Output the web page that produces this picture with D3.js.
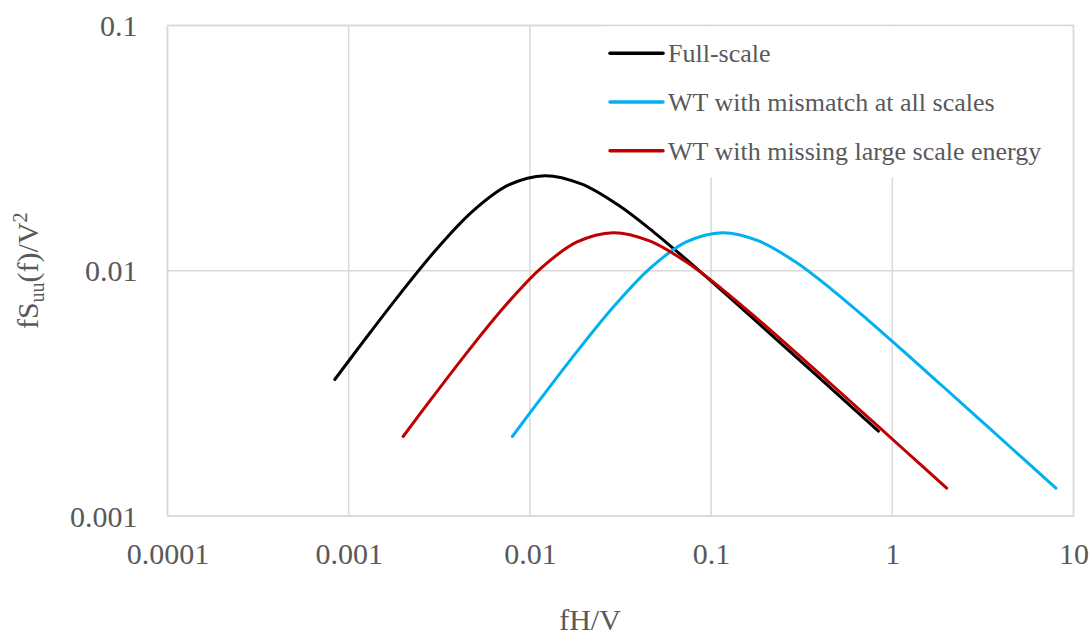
<!DOCTYPE html>
<html>
<head>
<meta charset="utf-8">
<script src="https://cdn.jsdelivr.net/npm/d3@7/dist/d3.min.js"></script>
<style>
  html, body { margin: 0; padding: 0; background: #fff; }
  svg text { font-family: "Liberation Serif", "Tinos", "Times New Roman", "DejaVu Serif", "Noto Serif", serif; fill: #595959; }
</style>
</head>
<body>
<svg id="chart" width="1092" height="637"></svg>
<script>
// Normalised velocity spectra fSuu(f)/V^2 against reduced frequency fH/V
const seriesNames = ["Full-scale", "WT with mismatch at all scales", "WT with missing large scale energy"];
const seriesColors = ["#000000", "#00b0f0", "#c00000"];

const fullScaleX = [0.000838, 0.001211, 0.00192, 0.003043, 0.004823, 0.007644, 0.01211, 0.0192, 0.03043, 0.04823, 0.07644, 0.1211, 0.192, 0.3043, 0.4823, 0.838];
const fullScaleY = [0.003602, 0.005174, 0.008052, 0.012207, 0.017466, 0.022381, 0.024421, 0.022594, 0.01861, 0.014375, 0.010794, 0.008008, 0.005909, 0.004354, 0.003204, 0.002218];

const mismatchX = [0.008, 0.011555, 0.018319, 0.029032, 0.046017, 0.072931, 0.11555, 0.18319, 0.29032, 0.46017, 0.72931, 1.1555, 1.8319, 2.9032, 4.6017, 7.996];
const mismatchY = [0.002109, 0.00303, 0.004715, 0.007148, 0.010228, 0.013106, 0.014301, 0.013231, 0.010898, 0.008418, 0.006321, 0.00469, 0.00346, 0.00255, 0.001876, 0.001299];

const missingX = [0.001997, 0.002885, 0.004574, 0.007249, 0.01149, 0.01821, 0.028852, 0.04574, 0.07249, 0.1149, 0.1821, 0.28852, 0.4574, 0.7249, 1.149, 1.996];
const missingY = [0.002109, 0.00303, 0.004715, 0.007148, 0.010228, 0.013106, 0.014301, 0.013231, 0.010898, 0.008418, 0.006321, 0.00469, 0.00346, 0.00255, 0.001876, 0.001299];

const xTicks = [0.0001, 0.001, 0.01, 0.1, 1, 10];
const xTickLabels = ["0.0001", "0.001", "0.01", "0.1", "1", "10"];
const yTicks = [0.001, 0.01, 0.1];
const yTickLabels = ["0.001", "0.01", "0.1"];

const plot = { left: 167.5, right: 1073.5, top: 25.5, bottom: 516 };

const svg = d3.select("#chart");

const x = d3.scaleLog().domain([0.0001, 10]).range([plot.left, plot.right]);
const y = d3.scaleLog().domain([0.001, 0.1]).range([plot.bottom, plot.top]);

// Gridlines
const grid = svg.append("g").attr("stroke", "#d9d9d9").attr("stroke-width", 1.5);
grid.selectAll("line.v").data(xTicks).join("line")
  .attr("class", "v")
  .attr("x1", d => x(d)).attr("x2", d => x(d))
  .attr("y1", plot.top).attr("y2", plot.bottom);
grid.selectAll("line.h").data(yTicks).join("line")
  .attr("class", "h")
  .attr("x1", plot.left).attr("x2", plot.right)
  .attr("y1", d => y(d)).attr("y2", d => y(d));

// Plot-area border
svg.append("rect")
  .attr("x", plot.left).attr("y", plot.top)
  .attr("width", plot.right - plot.left).attr("height", plot.bottom - plot.top)
  .attr("fill", "none").attr("stroke", "#d9d9d9").attr("stroke-width", 1.5);

// Axes: labels only
const xAxis = d3.axisBottom(x).tickValues(xTicks).tickSize(0)
  .tickFormat((d, i) => xTickLabels[i]);
const gx = svg.append("g").attr("transform", `translate(0,${plot.bottom})`).call(xAxis);
gx.select(".domain").remove();
gx.selectAll("text").attr("font-size", 30).attr("dy", null).attr("y", 48);

const yAxis = d3.axisLeft(y).tickValues(yTicks).tickSize(0)
  .tickFormat((d, i) => yTickLabels[i]);
const gy = svg.append("g").attr("transform", `translate(${plot.left},0)`).call(yAxis);
gy.select(".domain").remove();
gy.selectAll("text").attr("font-size", 30).attr("x", -30).attr("dy", "0.34em");

// Legend (white backing hides the gridlines behind it)
const legend = svg.append("g");
legend.append("rect")
  .attr("x", 604).attr("y", plot.top + 1).attr("width", 466).attr("height", 151)
  .attr("fill", "#fff");
const legendRows = seriesNames.map((name, i) => ({ name, color: seriesColors[i], i }));
legend.selectAll("line").data(legendRows).join("line")
  .attr("x1", 610).attr("x2", 663)
  .attr("y1", d => 53.3 + d.i * 48.7).attr("y2", d => 53.3 + d.i * 48.7)
  .attr("stroke", d => d.color).attr("stroke-width", 3.5).attr("stroke-linecap", "round");
legend.selectAll("text").data(legendRows).join("text")
  .attr("x", 668).attr("y", d => 62.3 + d.i * 48.7)
  .attr("font-size", 26)
  .text(d => d.name);

// Spectra
const line = d3.line()
  .x(d => x(d[0])).y(d => y(d[1]))
  .curve(d3.curveCatmullRom.alpha(0.5));

const series = [
  { xs: fullScaleX, ys: fullScaleY, color: seriesColors[0] },
  { xs: mismatchX, ys: mismatchY, color: seriesColors[1] },
  { xs: missingX, ys: missingY, color: seriesColors[2] }
];
svg.append("g").selectAll("path").data(series).join("path")
  .attr("d", s => line(s.xs.map((v, i) => [v, s.ys[i]])))
  .attr("fill", "none")
  .attr("stroke", s => s.color)
  .attr("stroke-width", 3)
  .attr("stroke-linecap", "round")
  .attr("stroke-linejoin", "round");

// Axis titles
svg.append("text")
  .attr("x", 590).attr("y", 630)
  .attr("text-anchor", "middle").attr("font-size", 30)
  .text("fH/V");

const yTitle = svg.append("text")
  .attr("transform", `translate(38,${(plot.top + plot.bottom) / 2}) rotate(-90)`)
  .attr("text-anchor", "middle").attr("font-size", 30);
yTitle.append("tspan").text("fS");
yTitle.append("tspan").attr("font-size", 20).attr("dy", 6).text("uu");
yTitle.append("tspan").attr("dy", -6).text("(f)/V");
yTitle.append("tspan").attr("font-size", 20).attr("dy", -11).text("2");
</script>
</body>
</html>
